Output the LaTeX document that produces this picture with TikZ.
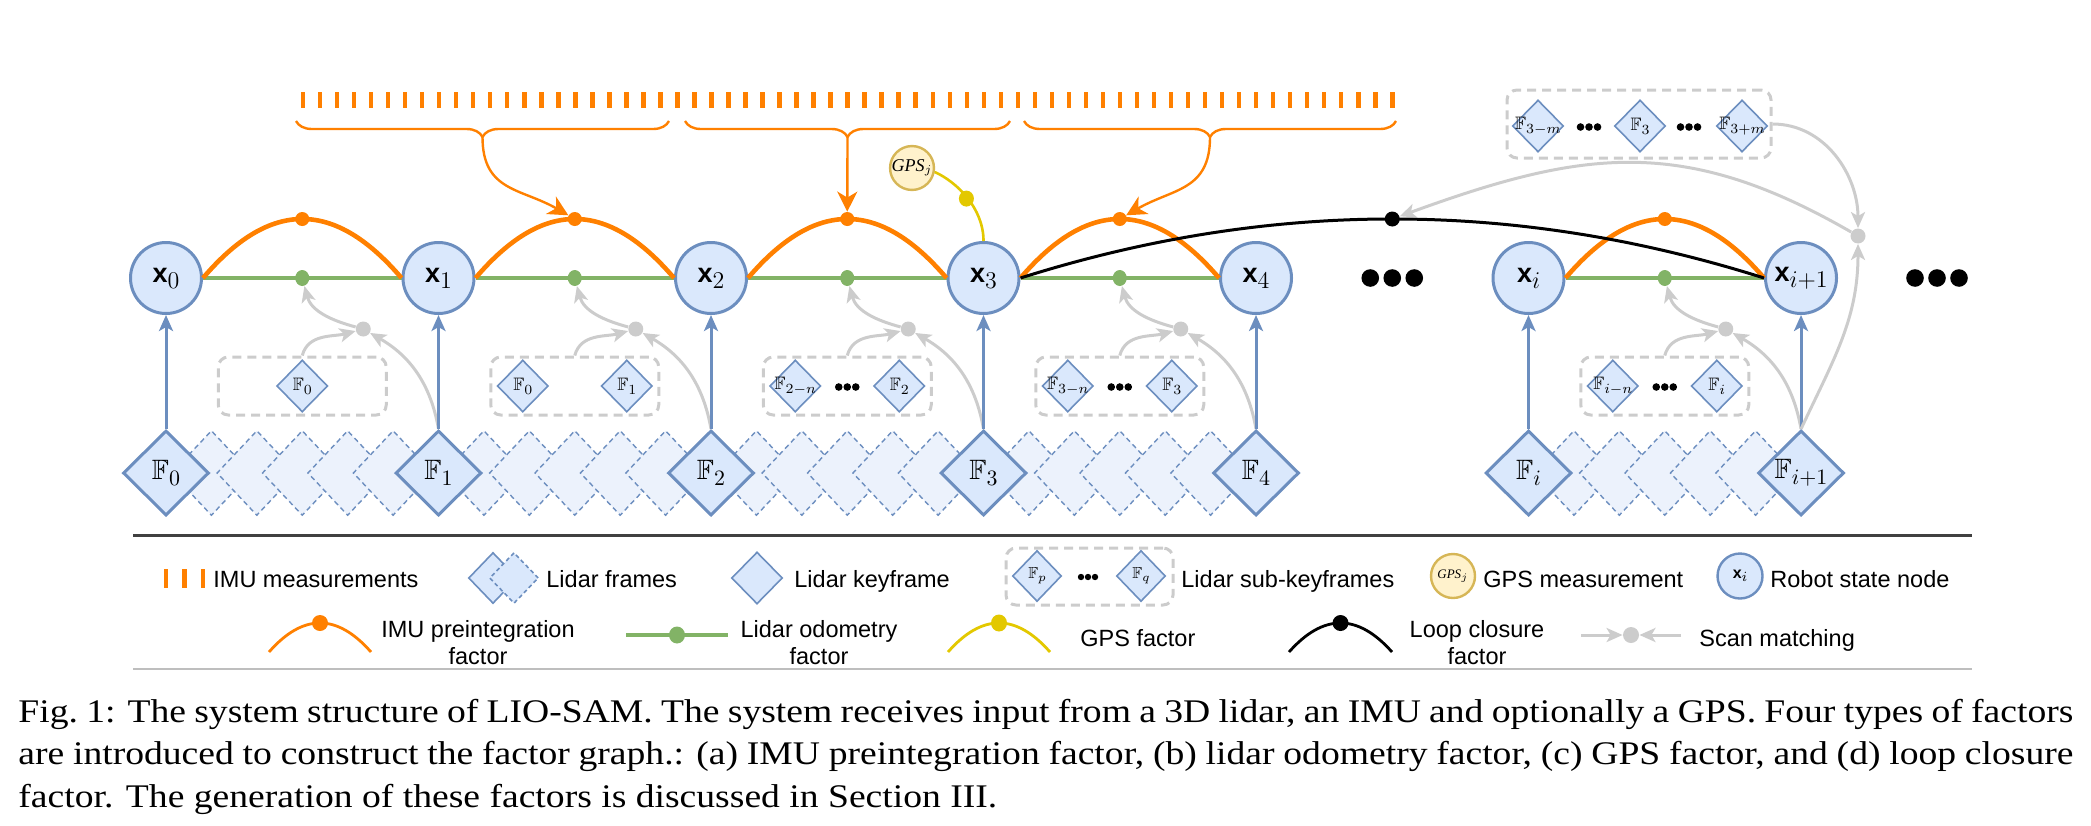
\documentclass[tikz,border=0pt]{standalone}
\usepackage{amssymb}
\usepackage{fontspec}
\setmainfont{Liberation Serif}
\setsansfont{Liberation Sans}
\newfontfamily\capfont[FakeStretch=1.14]{Liberation Serif}
\usetikzlibrary{shapes.geometric,arrows.meta,decorations.pathreplacing,calc}
\definecolor{bfill}{HTML}{DAE8FC}
\definecolor{bstroke}{HTML}{6C8EBF}
\definecolor{lfill}{RGB}{236,242,252}
\definecolor{org}{HTML}{FF8000}
\definecolor{grn}{HTML}{82B366}
\definecolor{ylw}{HTML}{E3C800}
\definecolor{gpsfill}{HTML}{FFF2CC}
\definecolor{gpsstroke}{HTML}{D6B656}
\definecolor{gry}{RGB}{204,204,204}
\definecolor{legdark}{RGB}{64,64,64}
\definecolor{leglight}{RGB}{190,190,190}
\newcommand{\xlab}[4]{{\fontsize{#1}{#1}\selectfont\sffamily\bfseries x}\raisebox{#3}{\fontsize{#2}{#2}\selectfont$#4$}}
\newcommand{\flab}[4]{{\fontsize{#1}{#1}\selectfont$\mathbb{F}$}\raisebox{#3}{\fontsize{#2}{#2}\selectfont$#4$}}
\begin{document}
\begin{tikzpicture}[x=0.5pt,y=-0.5pt,
 xnode/.style={circle, draw=bstroke, fill=bfill, line width=1.5pt, minimum size=35.5pt, inner sep=0pt},
 kf/.style={diamond, draw=bstroke, fill=bfill, line width=1.5pt, minimum width=43pt, minimum height=42.5pt, inner sep=0pt},
 lf/.style={diamond, draw=bstroke, fill=lfill, line width=0.7pt, dash pattern=on 2.5pt off 1.8pt, minimum width=40pt, minimum height=42.5pt, inner sep=0pt},
 sk/.style={diamond, draw=bstroke, fill=bfill, line width=0.8pt, minimum width=25.5pt, minimum height=26pt, inner sep=0pt},
 subbox/.style={draw=gry, line width=1.5pt, dash pattern=on 4.5pt off 3pt, rounded corners=5pt, minimum width=84pt, minimum height=29pt, inner sep=0pt},
 odot/.style={circle, fill=org, minimum size=7pt, inner sep=0pt},
 gdot/.style={ellipse, fill=grn, minimum width=7pt, minimum height=8pt, inner sep=0pt},
 sdot/.style={circle, fill=gry, minimum size=7.5pt, inner sep=0pt},
 kdot/.style={circle, fill=black, minimum size=7.5pt, inner sep=0pt},
 ydot/.style={ellipse, fill=ylw, minimum width=7.5pt, minimum height=8pt, inner sep=0pt},
 imuarc/.style={draw=org, line width=2.3pt},
 odoline/.style={draw=grn, line width=2pt},
 loopline/.style={draw=black, line width=1.5pt},
 gpsline/.style={draw=ylw, line width=1.3pt},
 barrow/.style={draw=bstroke, line width=1.5pt, -{Stealth[length=8pt,width=7pt,inset=2pt]}},
 sarrow/.style={draw=gry, line width=1.5pt, -{Stealth[length=8pt,width=7pt,inset=2pt]}},
 oarrow/.style={draw=org, line width=1.2pt, -{Stealth[length=10pt,width=10pt,inset=3pt]}},
 brc/.style={draw=org, line width=1.2pt, decorate, decoration={brace, amplitude=8pt}},
 leg/.style={font=\fontsize{11.75}{13.5}\selectfont\sffamily, inner sep=0pt},
 gpsnode/.style={circle, draw=gpsstroke, fill=gpsfill, line width=1.2pt, inner sep=0pt}
]
\useasboundingbox (0,0) rectangle (2091,825);

% ---------- IMU measurements ----------
\foreach \i in {0,...,64} \fill[org] ({303+17.02*\i-2.25},92) rectangle +(4.5,16);
\draw[brc] (669,121) -- (296,121);
\draw[brc] (1010,121) -- (685,121);
\draw[brc] (1396,121) -- (1024,121);
\coordinate (BT1) at (482.5,137);
\coordinate (BT2) at (847.5,137);
\coordinate (BT3) at (1210,137);

% ---------- lidar frames ----------
\foreach \a/\q in {166/0,438.5/1,711/2,983.5/3,1528.5/i}{
  \foreach \j in {1,...,5}{\node[lf] (LF\q\j) at ({\a+272.5*\j/6},473) {};}
}
% ---------- keyframes ----------
\node[kf, label={center:\flab{14}{11}{-2.8pt}{0}}] (F0) at (166,473) {};
\node[kf, label={center:\flab{14}{11}{-2.8pt}{1}}] (F1) at (438.5,473) {};
\node[kf, label={center:\flab{14}{11}{-2.8pt}{2}}] (F2) at (711,473) {};
\node[kf, label={center:\flab{14}{11}{-2.8pt}{3}}] (F3) at (983.5,473) {};
\node[kf, label={center:\flab{14}{11}{-2.8pt}{4}}] (F4) at (1256,473) {};
\node[kf, label={center:\flab{14}{11}{-2.8pt}{i}}] (Fi) at (1528.5,473) {};
\node[kf, label={center:\flab{14}{11}{-2.8pt}{i{+}1}}] (Fj) at (1801,473) {};

% ---------- states ----------
\node[xnode] (X0) at (166,278) {\xlab{13.5}{12}{-3pt}{0}};
\node[xnode] (X1) at (438.5,278) {\xlab{13.5}{12}{-3pt}{1}};
\node[xnode] (X2) at (711,278) {\xlab{13.5}{12}{-3pt}{2}};
\node[xnode] (X3) at (983.5,278) {\xlab{13.5}{12}{-3pt}{3}};
\node[xnode] (X4) at (1256,278) {\xlab{13.5}{12}{-3pt}{4}};
\node[xnode] (Xi) at (1528.5,278) {\xlab{13.5}{12}{-3pt}{i}};
\node[xnode] (Xj) at (1801,278) {\xlab{13.5}{12}{-3pt}{i{+}1}};

\foreach \d in {-1,0,1} \fill ({1392.25+22*\d},278) circle (4.4pt);
\foreach \d in {-1,0,1} \fill ({1937+22*\d},278) circle (4.4pt);

% ---------- factors between consecutive states ----------
\foreach \a/\b/\f/\q in {X0/X1/F1/a, X1/X2/F2/b, X2/X3/F3/c, X3/X4/F4/d, Xi/Xj/Fj/e}{
  \coordinate (M\q) at ($(\a)!0.5!(\b)$);
  \node[gdot] (G\q) at (M\q) {};
  \node[odot] (O\q) at ($(M\q)+(0,-59)$) {};
  \node[sdot] (S\q) at ($(M\q)+(61,51)$) {};
  \node[subbox] (B\q) at ($(M\q)+(0,108)$) {};
  \draw[odoline] (\a.east) -- (\b.west);
  \draw[imuarc] (\a.east) .. controls +(67.2,-78.7) and +(-67.2,-78.7) .. (\b.west);
  \draw[sarrow] (B\q.north) to[out=75,in=195] (S\q);
  \draw[sarrow] (\f.north) to[out=100,in=-30] (S\q);
  \draw[sarrow] (S\q) to[out=165,in=-75] (G\q);
}

% ---------- sub-keyframes ----------
\node[sk, label={center:\flab{9}{7}{-1.8pt}{0}}] (Sa1) at (Ba) {};
\node[sk, label={center:\flab{9}{7}{-1.8pt}{0}}] (Sb1) at ($(Bb)+(-52,0)$) {};
\node[sk, label={center:\flab{9}{7}{-1.8pt}{1}}] (Sb2) at ($(Bb)+(52,0)$) {};
\node[sk, label={center:\flab{9}{7}{-1.8pt}{2{-}n}}] (Sc1) at ($(Bc)+(-52,0)$) {};
\node[sk, label={center:\flab{9}{7}{-1.8pt}{2}}] (Sc2) at ($(Bc)+(52,0)$) {};
\node[sk, label={center:\flab{9}{7}{-1.8pt}{3{-}n}}] (Sd1) at ($(Bd)+(-52,0)$) {};
\node[sk, label={center:\flab{9}{7}{-1.8pt}{3}}] (Sd2) at ($(Bd)+(52,0)$) {};
\node[sk, label={center:\flab{9}{7}{-1.8pt}{i{-}n}}] (Se1) at ($(Be)+(-52,0)$) {};
\node[sk, label={center:\flab{9}{7}{-1.8pt}{i}}] (Se2) at ($(Be)+(52,0)$) {};
\foreach \bx in {Bc,Bd,Be}{\foreach \d in {-1,0,1} \fill ($(\bx)+(8.5*\d,1)$) circle (1.9pt);}

% ---------- keyframe -> state ----------
\foreach \q in {0,1,2,3,4,i,j} \draw[barrow] (F\q.north) -- (X\q.south);

% ---------- IMU brace arrows ----------
\draw[oarrow] (BT1) to[out=-90,in=150,looseness=1.2] (Ob);
\draw[oarrow] (BT2) -- (Oc);
\draw[oarrow] (BT3) to[out=-90,in=30,looseness=1.2] (Od);

% ---------- GPS factor ----------
\node[gpsnode, minimum size=21.5pt, font=\fontsize{9}{9}\selectfont] (GPS) at (912,168) {\textit{GPS}$_j$};
\node[ydot] (YD) at (966.4,198.6) {};
\draw[gpsline] (GPS.-10) .. controls +(22,10) and +(0,-33) .. (X3.north);

% ---------- loop closure ----------
\node[kdot] (LD) at (1392.25,219) {};
\draw[loopline] (X3.east) .. controls +(248.7,-78.7) and +(-248.7,-78.7) .. (Xj.west);
\node[subbox, minimum width=132pt, minimum height=34pt] (TB) at (1639,124) {};
\node[sk, label={center:\flab{9}{7}{-1.8pt}{3{-}m}}] (T1) at (1538,126) {};
\node[sk, label={center:\flab{9}{7}{-1.8pt}{3}}] (T2) at (1640,126) {};
\node[sk, label={center:\flab{9}{7}{-1.8pt}{3{+}m}}] (T3) at (1742,126) {};
\foreach \cx in {1589,1689}{\foreach \d in {-1,0,1} \fill ({\cx+8.5*\d},127) circle (1.9pt);}
\node[sdot] (LG) at (1858,236) {};
\draw[sarrow] (TB.east) to[out=0,in=90] (LG);
\draw[sarrow] (Fj.north) to[out=65,in=-90] (LG);
\draw[sarrow] (LG) to[out=150,in=20,looseness=1.1] (LD);

% ---------- legend ----------
\draw[legdark, line width=1.5pt] (133,535) -- (1972,535);
\draw[leglight, line width=1pt] (133,669) -- (1972,669);
\foreach \xx in {166,184.5,203} \fill[org] ({\xx-2.25},569) rectangle +(4.5,19);
\node[leg, anchor=base west] (t1) at (213,587) {IMU measurements};
\node[diamond, draw=bstroke, fill=bfill, line width=0.8pt, minimum width=24.5pt, minimum height=25.5pt, inner sep=0pt] (lfa) at (493,578) {};
\node[diamond, draw=bstroke, fill=bfill, line width=0.8pt, dash pattern=on 2pt off 1.5pt, minimum width=24.5pt, minimum height=25.5pt, inner sep=0pt] (lfb) at (514,578) {};
\node[leg, anchor=base west] (t2) at (546,587) {Lidar frames};
\node[diamond, draw=bstroke, fill=bfill, line width=0.8pt, minimum width=25.5pt, minimum height=26pt, inner sep=0pt] (lkf) at (757,578) {};
\node[leg, anchor=base west] (t3) at (794,587) {Lidar keyframe};
\node[subbox, minimum width=83.5pt, minimum height=28.5pt] (lsb) at (1089.5,576.5) {};
\node[sk, minimum width=24.5pt, minimum height=25.5pt, label={center:\flab{8}{6.5}{-1.6pt}{p}}] (lfp) at (1037,576) {};
\node[sk, minimum width=24.5pt, minimum height=25.5pt, label={center:\flab{8}{6.5}{-1.6pt}{q}}] (lfq) at (1141,576) {};
\foreach \d in {-1,0,1} \fill ({1088+7*\d},577) circle (1.6pt);
\node[leg, anchor=base west] (t4) at (1181,587) {Lidar sub-keyframes};
\node[gpsnode, minimum size=22pt, font=\fontsize{6.5}{6.5}\selectfont] (lgps) at (1453,576) {\textit{GPS}$_j$};
\node[leg, anchor=base west] (t5) at (1483,587) {GPS measurement};
\node[xnode, line width=1.2pt, minimum size=22.5pt] (lx) at (1740,576) {\xlab{8}{7}{-1.5pt}{i}};
\node[leg, anchor=base west] (t6) at (1770,587) {Robot state node};

\coordinate (la1) at (269,652); \coordinate (la2) at (371,652);
\node[odot, minimum size=8pt] (lod) at (320,623) {};
\draw[org, line width=1.4pt] (la1) .. controls +(34,-38.7) and +(-34,-38.7) .. (la2);
\node[leg, align=center] (t7) at (478,643) {IMU preintegration\\factor};
\coordinate (lg1) at (626,635); \coordinate (lg2) at (728,635);
\node[gdot, minimum width=8pt, minimum height=8.5pt] (lgd) at (677,635) {};
\draw[grn, line width=1.6pt] (lg1) -- (lg2);
\node[leg, align=center] (t8) at (819,643) {Lidar odometry\\factor};
\coordinate (ly1) at (948,652); \coordinate (ly2) at (1050,652);
\node[ydot, minimum width=8pt, minimum height=8.5pt] (lyd) at (999,623) {};
\draw[ylw, line width=1.4pt] (ly1) .. controls +(34,-38.7) and +(-34,-38.7) .. (ly2);
\node[leg, anchor=base west] (t9) at (1080,646) {GPS factor};
\coordinate (lk1) at (1289,652); \coordinate (lk2) at (1392,652);
\node[kdot, minimum size=8pt] (lkd) at (1340.5,623) {};
\draw[black, line width=1.4pt] (lk1) .. controls +(34.3,-38.7) and +(-34.3,-38.7) .. (lk2);
\node[leg, align=center] (t10) at (1477,643) {Loop closure\\factor};
\coordinate (ls1) at (1581,635); \coordinate (ls2) at (1681,635);
\node[sdot, minimum size=8pt] (lsd) at (1631,635) {};
\draw[sarrow] (ls1) -- (lsd);
\draw[sarrow] (ls2) -- (lsd);
\node[leg, anchor=base west] (t11) at (1699,646) {Scan matching};

% ---------- caption ----------
\node[anchor=base west, inner sep=0pt, font=\capfont\fontsize{16.5}{21}\selectfont] (cap1) at (18,722)
 {\makebox[1027.5pt][s]{Fig.~1: The system structure of LIO-SAM. The system receives input from a 3D lidar, an IMU and optionally a GPS. Four types of factors}};
\node[anchor=base west, inner sep=0pt, font=\capfont\fontsize{16.5}{21}\selectfont] (cap2) at (18,764.5)
 {\makebox[1027.5pt][s]{are introduced to construct the factor graph.: (a) IMU preintegration factor, (b) lidar odometry factor, (c) GPS factor, and (d) loop closure}};
\node[anchor=base west, inner sep=0pt, font=\capfont\fontsize{16.5}{21}\selectfont] (cap3) at (18,807)
 {factor. The generation of these factors is discussed in Section III.};
\end{tikzpicture}
\end{document}
